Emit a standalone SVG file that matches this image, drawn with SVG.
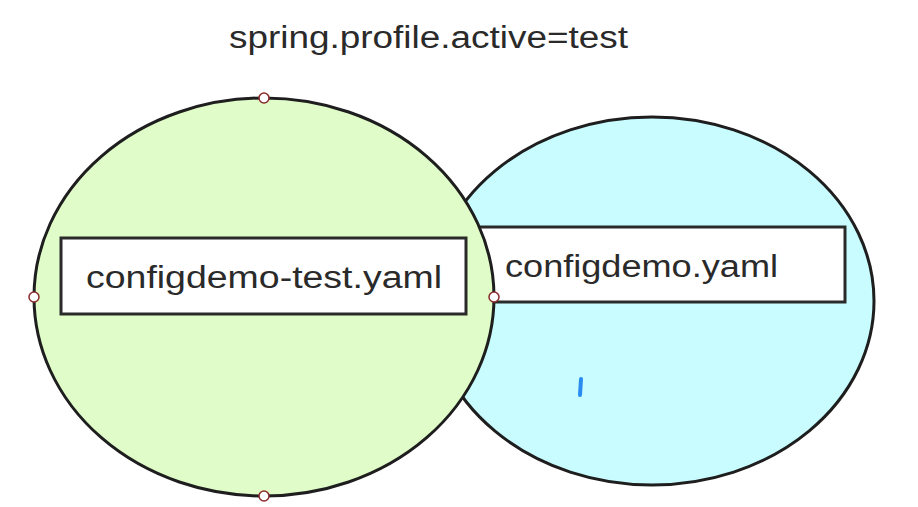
<svg xmlns="http://www.w3.org/2000/svg" width="918" height="507" viewBox="0 0 918 507">
<style>
.lbl{font-family:"Liberation Sans","Noto Sans",Arial,sans-serif;fill:#2a2a2a;}
.box{fill:#ffffff;stroke:#2a2a2a;stroke-width:3;}
.ell{stroke:#1e1e1e;stroke-width:3;}
.handle{fill:#ffffff;stroke:#8a2a2a;stroke-width:1.5;}
</style>
<rect width="918" height="507" fill="#ffffff"/>
<text class="lbl" x="229" y="48" font-size="31" textLength="399" lengthAdjust="spacingAndGlyphs">spring.profile.active=test</text>
<g id="right-node">
<ellipse class="ell" cx="652" cy="301" rx="222" ry="184" fill="#c8fcff"/>
<rect class="box" x="474" y="227" width="371" height="75"/>
<text class="lbl" x="505" y="277" font-size="31" textLength="273" lengthAdjust="spacingAndGlyphs">configdemo.yaml</text>
<path d="M581 379 L580 395" stroke="#2a8cf0" stroke-width="4" stroke-linecap="round" fill="none"/>
</g>
<g id="left-node">
<ellipse class="ell" cx="264" cy="297" rx="230" ry="199" fill="#e0fcc8"/>
<rect class="box" x="61" y="238" width="405" height="76"/>
<text class="lbl" x="86" y="288" font-size="31" textLength="356" lengthAdjust="spacingAndGlyphs">configdemo-test.yaml</text>
<circle class="handle" cx="264" cy="98" r="5"/>
<circle class="handle" cx="34" cy="297" r="5"/>
<circle class="handle" cx="494" cy="297" r="5"/>
<circle class="handle" cx="264" cy="496" r="5"/>
</g>
<g id="connectors"></g>
</svg>
